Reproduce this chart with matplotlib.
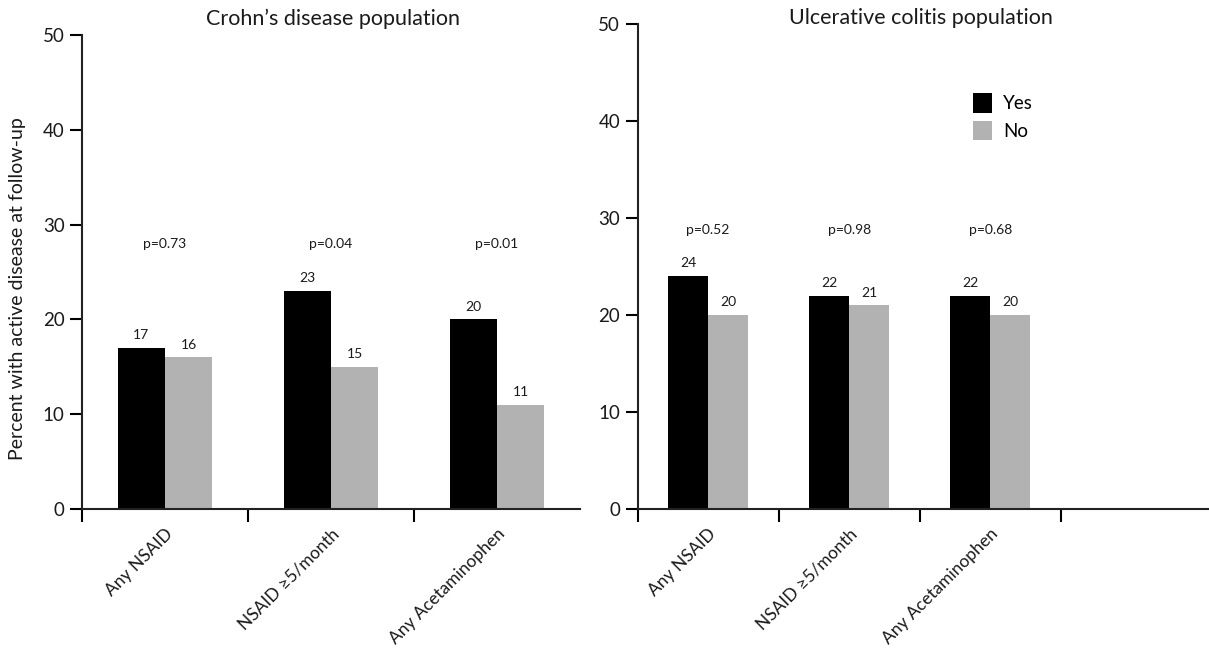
import matplotlib.pyplot as plt
from matplotlib.patches import Patch

plt.rcParams['font.family'] = ['Lato', 'DejaVu Sans']

categories = ["Any NSAID", "NSAID \u22655/month", "Any Acetaminophen"]

cd_yes = [17, 23, 20]
cd_no = [16, 15, 11]
cd_p = ["p=0.73", "p=0.04", "p=0.01"]

uc_yes = [24, 22, 22]
uc_no = [20, 21, 20]
uc_p = ["p=0.52", "p=0.98", "p=0.68"]

BLACK = "#000000"
GRAY = "#b2b2b2"
TXT = "#1a1a1a"

fig = plt.figure(figsize=(12.09, 6.53), dpi=100)
ax1 = fig.add_axes([82 / 1209, 1 - 509 / 653, (580 - 82) / 1209, (509 - 35) / 653])
ax2 = fig.add_axes([637.5 / 1209, 1 - 509 / 653, (1209 - 637.5) / 1209, (509 - 24) / 653])


def draw_panel(ax, yes, no, pvals, p_y, xmax, xticks):
    width = 0.285
    centers = [i + 0.5 for i in range(len(yes))]
    ax.bar([c - width / 2 for c in centers], yes, width, color=BLACK, label="Yes")
    ax.bar([c + width / 2 for c in centers], no, width, color=GRAY, label="No")
    for c, y, n, p in zip(centers, yes, no, pvals):
        ax.text(c - width / 2, y + 0.7, str(y), ha="center", va="bottom", fontsize=10, color=TXT)
        ax.text(c + width / 2, n + 0.7, str(n), ha="center", va="bottom", fontsize=10, color=TXT)
        ax.text(c, p_y, p, ha="center", va="center", fontsize=10, color=TXT)
    ax.set_xlim(0, xmax)
    ax.set_ylim(0, 50)
    ax.set_yticks([0, 10, 20, 30, 40, 50])
    ax.set_xticks(xticks)
    ax.set_xticklabels([])
    ax.set_xticks(centers, minor=True)
    ax.set_xticklabels(categories, minor=True, rotation=45, ha="right",
                       rotation_mode="anchor", fontsize=12.5, color=TXT)
    ax.tick_params(axis="x", which="minor", length=0, pad=12)
    ax.tick_params(axis="x", which="major", length=9, width=1.5, direction="out")
    ax.tick_params(axis="y", length=9, width=1.5, labelsize=13.5, labelcolor=TXT)
    for s in ["top", "right"]:
        ax.spines[s].set_visible(False)
    for s in ["left", "bottom"]:
        ax.spines[s].set_linewidth(1.5)
        ax.spines[s].set_color("#222222")


draw_panel(ax1, cd_yes, cd_no, cd_p, 28.0, 3.0, [0, 1, 2])
draw_panel(ax2, uc_yes, uc_no, uc_p, 28.8, 4.05, [0, 1, 2, 3])

fig.text(333 / 1209, 1 - 19 / 653, "Crohn\u2019s disease population",
         ha="center", va="center", fontsize=15.5, color=TXT)
fig.text(921 / 1209, 1 - 18 / 653, "Ulcerative colitis population",
         ha="center", va="center", fontsize=15.5, color=TXT)
fig.text(18 / 1209, 1 - 289 / 653, "Percent with active disease at follow-up",
         rotation=90, ha="center", va="center", fontsize=14, color=TXT)

handles = [Patch(facecolor=BLACK, label="Yes"), Patch(facecolor=GRAY, label="No")]
ax2.legend(handles=handles, loc="upper left", bbox_to_anchor=(964 / 1209, 1 - 84 / 653),
           bbox_transform=fig.transFigure, frameon=False, fontsize=13.5,
           handlelength=1.0, handleheight=1.2, handletextpad=0.6, labelspacing=0.45,
           borderpad=0)

fig.savefig("out.png", dpi=100)
